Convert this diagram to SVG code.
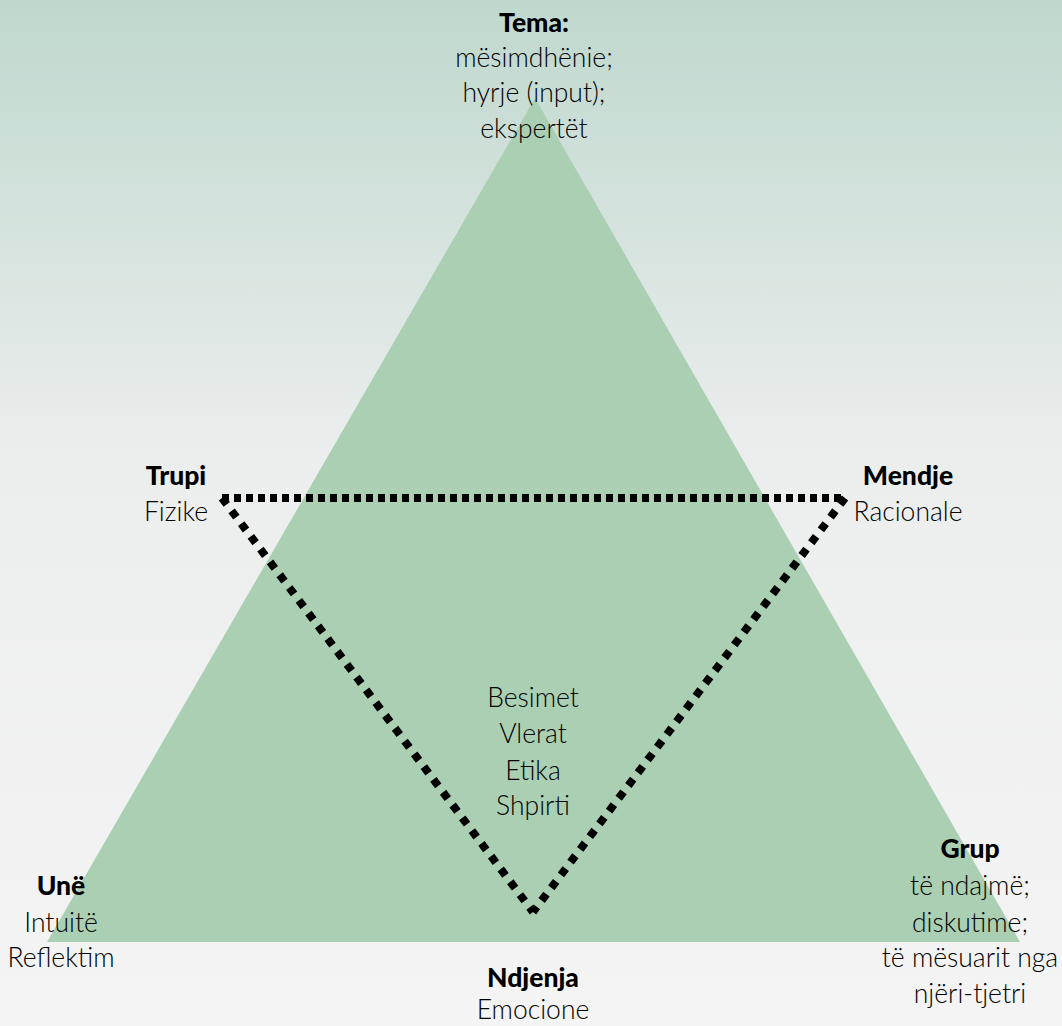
<svg xmlns="http://www.w3.org/2000/svg" width="1062" height="1026" viewBox="0 0 1062 1026">
<defs>
<linearGradient id="bg" x1="0" y1="0" x2="0" y2="1">
<stop offset="0" stop-color="#bfd8ce"/>
<stop offset="0.45" stop-color="#eceeed"/>
<stop offset="1" stop-color="#f4f4f4"/>
</linearGradient>
<style>
text{font-family:Lato,"Open Sans","Liberation Sans",sans-serif;font-size:26.5px;font-weight:300;fill:#000;text-anchor:middle}
.b{font-weight:900}
.dot{fill:none;stroke:#000;stroke-width:8}
.h{stroke-dasharray:7 5}
.d{stroke-dasharray:8 8}
</style>
</defs>
<rect width="1062" height="1026" fill="url(#bg)"/>
<g id="triangle"><polygon points="535,98 1020,942 47,942" fill="#aacfb3"/></g>
<g id="connectors">
<line class="dot h" x1="222" y1="498" x2="845" y2="498"/>
<line class="dot d" x1="222" y1="498" x2="533" y2="912"/>
<line class="dot d" x1="845" y1="498" x2="533" y2="912"/>
</g>
<g id="tema"><text x="534" y="32" class="b">Tema:</text><text x="534" y="67">mësimdhënie;</text><text x="534" y="102">hyrje (input);</text><text x="534" y="138">ekspertët</text></g>
<g id="trupi"><text x="176" y="485" class="b">Trupi</text><text x="176" y="521">Fizike</text></g>
<g id="mendje"><text x="908" y="485" class="b">Mendje</text><text x="908" y="521">Racionale</text></g>
<g id="une"><text x="61" y="895" class="b">Unë</text><text x="61" y="932">Intuitë</text><text x="61" y="967">Reflektim</text></g>
<g id="grup"><text x="970" y="858" class="b">Grup</text><text x="970" y="895">të ndajmë;</text><text x="970" y="932">diskutime;</text><text x="970" y="967">të mësuarit nga</text><text x="970" y="1003">njëri-tjetri</text></g>
<g id="center"><text x="533" y="707">Besimet</text><text x="533" y="743">Vlerat</text><text x="533" y="780">Etika</text><text x="533" y="815">Shpirti</text></g>
<g id="ndjenja"><text x="533" y="987" class="b">Ndjenja</text><text x="533" y="1019">Emocione</text></g>
</svg>
